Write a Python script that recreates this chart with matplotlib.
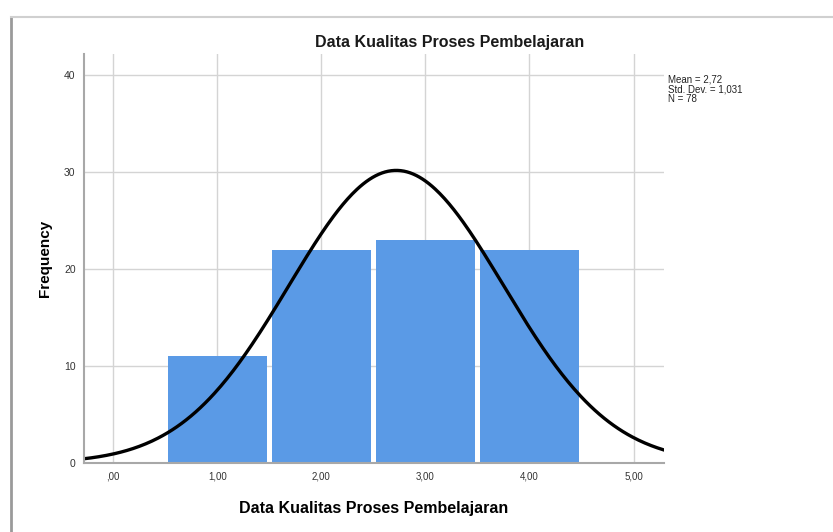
import numpy as np
import matplotlib
matplotlib.use("Agg")
import matplotlib.pyplot as plt
from matplotlib.lines import Line2D

# data
bins = [1, 2, 3, 4]
counts = [11, 22, 23, 22]
mean = 2.72
std_dev = 1.031
n_total = 78
x_ticks = [0, 1, 2, 3, 4, 5]
x_tick_labels = [",00", "1,00", "2,00", "3,00", "4,00", "5,00"]
y_ticks = [0, 10, 20, 30, 40]

plt.rcParams["font.family"] = ["Liberation Sans", "DejaVu Sans"]

fig = plt.figure(figsize=(8.33, 5.32), dpi=100)
ax = fig.add_axes([0.1008, 0.1297, 0.696, 0.769])

ax.bar(bins, counts, width=0.95, color="#5A9AE6", linewidth=0, zorder=3)

# fitted normal curve (SPSS style)
xs = np.linspace(-0.5, 5.5, 400)
ys = n_total * 1.0 / (std_dev * np.sqrt(2 * np.pi)) * np.exp(-0.5 * ((xs - mean) / std_dev) ** 2)
ax.plot(xs, ys, color="black", linewidth=2.4, zorder=4)

ax.set_xlim(-0.28, 5.29)
ax.set_ylim(0, 42.2)
ax.set_xticks(x_ticks)
ax.set_xticklabels(x_tick_labels, fontsize=7, color="#333333")
ax.set_yticks(y_ticks)
ax.set_yticklabels([str(v) for v in y_ticks], fontsize=7.5, color="#333333")
ax.tick_params(length=0, pad=6)
ax.grid(True, color="#D4D4D4", linewidth=1, zorder=0)
ax.set_axisbelow(True)

for s in ["top", "right"]:
    ax.spines[s].set_visible(False)
for s in ["left", "bottom"]:
    ax.spines[s].set_color("#A8A8A8")
    ax.spines[s].set_linewidth(1.5)
    ax.spines[s].set_zorder(5)

fig.text(450 / 833, 1 - 42 / 532, "Data Kualitas Proses Pembelajaran",
         fontsize=11.5, fontweight="bold", ha="center", va="center", color="#1a1a1a")
ax.set_xlabel("Data Kualitas Proses Pembelajaran", fontsize=11.5, fontweight="bold", labelpad=14)
ax.set_ylabel("Frequency", fontsize=11, fontweight="bold", labelpad=9)

fig.text(668 / 833, 1 - 74 / 532, "Mean = 2,72\nStd. Dev. = 1,031\nN = 78",
         fontsize=7, va="top", ha="left", linespacing=1.0, color="#222222")

# frame of the output window
fig.add_artist(Line2D([11 / 833, 11 / 833], [0, 1 - 17 / 532], color="#9A9A9A", linewidth=2))
fig.add_artist(Line2D([11 / 833, 1], [1 - 17 / 532, 1 - 17 / 532], color="#D0D0D0", linewidth=1.5))

fig.savefig("out.png", dpi=100)
